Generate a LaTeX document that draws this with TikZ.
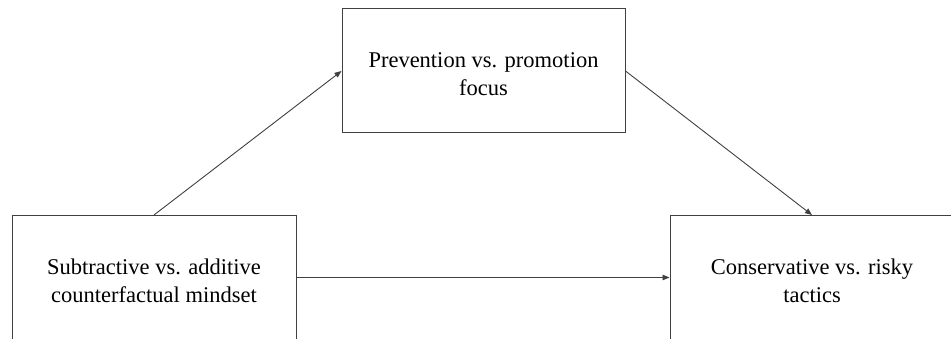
\documentclass[tikz,border=0pt]{standalone}
\usepackage{fontspec}
\setmainfont{Liberation Serif}
\usetikzlibrary{arrows.meta,positioning}

\begin{document}
\begin{tikzpicture}[x=1pt, y=-1pt, >={Triangle[length=7pt,width=5.5pt]},
    font=\fontsize{22.5}{28}\selectfont,
    var/.style={draw=black!75, line width=1pt, fill=white, align=center,
                minimum width=#1, minimum height=124pt, inner sep=0pt,
                text height=55pt, text depth=6pt},
    arr/.style={->, line width=0.9pt, black!75}]

  \useasboundingbox (0,0) rectangle (951,339);

  %% Variables
  \node[var=283pt] (med) at (483.5, 71)  {Prevention vs. promotion\\focus};
  \node[var=284pt] (iv)  at (154, 277.5) {Subtractive vs. additive\\counterfactual mindset};
  \node[var=284pt] (dv)  at (812,277.5)  {Conservative vs. risky\\tactics};

  %% Paths
  \draw[arr] (iv.north) -- (med.west);
  \draw[arr] (med.east) -- (dv.north);
  \draw[arr] (iv.east)  -- (dv.west);
\end{tikzpicture}
\end{document}
